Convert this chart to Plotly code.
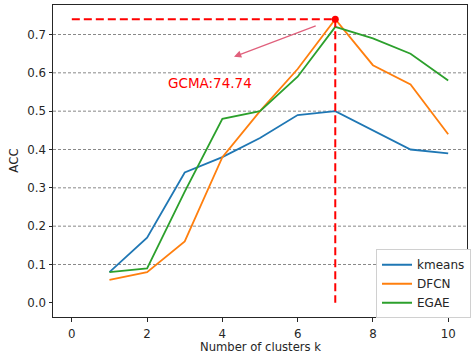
import plotly.graph_objects as go

k_values = [1, 2, 3, 4, 5, 6, 7, 8, 9, 10]
kmeans = [0.08, 0.17, 0.34, 0.38, 0.43, 0.49, 0.50, 0.45, 0.40, 0.39]
dfcn = [0.06, 0.08, 0.16, 0.38, 0.50, 0.61, 0.74, 0.62, 0.57, 0.44]
egae = [0.08, 0.09, 0.29, 0.48, 0.50, 0.59, 0.72, 0.69, 0.65, 0.58]

series_names = ["kmeans", "DFCN", "EGAE"]
series_colors = ["#1f77b4", "#ff7f0e", "#2ca02c"]

peak_k = 7
peak_acc = 0.74
peak_label = "GCMA:74.74"
hline_start = 0
arrow_tail = (6.52, 0.724)
arrow_head = (4.31, 0.642)
label_pos = (3.66, 0.574)

x_title = "Number of clusters k"
y_title = "ACC"

grid_levels = [0.1, 0.2, 0.3, 0.4, 0.5, 0.6, 0.7]
x_ticks = [0, 2, 4, 6, 8, 10]
y_ticks = [0.0, 0.1, 0.2, 0.3, 0.4, 0.5, 0.6, 0.7]

FONT = "DejaVu Sans"
TXT = "#262626"
fig = go.Figure()

for name, vals, col in zip(series_names, [kmeans, dfcn, egae], series_colors):
    fig.add_trace(go.Scatter(x=k_values, y=vals, mode="lines", name=name,
                             line=dict(color=col, width=1.8)))

# red dashed guide lines
fig.add_trace(go.Scatter(x=[hline_start, peak_k], y=[peak_acc, peak_acc], mode="lines",
                         line=dict(color="red", width=2, dash="8px,4px"),
                         showlegend=False, hoverinfo="skip"))
fig.add_trace(go.Scatter(x=[peak_k, peak_k], y=[peak_acc, 0], mode="lines",
                         line=dict(color="red", width=2, dash="8px,4px"),
                         showlegend=False, hoverinfo="skip"))
fig.add_trace(go.Scatter(x=[peak_k], y=[peak_acc], mode="markers",
                         marker=dict(color="red", size=7),
                         showlegend=False, hoverinfo="skip"))

shapes = []
for g in grid_levels:
    shapes.append(dict(type="line", xref="paper", x0=0, x1=1, yref="y", y0=g, y1=g,
                       line=dict(color="#888888", width=1, dash="3px,2px"), layer="below"))

fig.update_layout(
    width=471, height=353,
    margin=dict(l=53, r=0, t=5, b=36),
    paper_bgcolor="white", plot_bgcolor="white",
    font=dict(family=FONT, size=11.8, color=TXT),
    shapes=shapes,
    showlegend=True,
    legend=dict(x=1.01, y=-0.004, xanchor="right", yanchor="bottom",
                bgcolor="white", bordercolor="#d0d0d0", borderwidth=1,
                font=dict(family=FONT, size=12, color=TXT)),
    annotations=[
        dict(x=arrow_head[0], y=arrow_head[1], ax=arrow_tail[0], ay=arrow_tail[1],
             xref="x", yref="y", axref="x", ayref="y", text="",
             showarrow=True, arrowhead=2, arrowsize=1.2, arrowwidth=1.2,
             arrowcolor="#e0607c", standoff=0, startstandoff=0),
        dict(x=label_pos[0], y=label_pos[1], xref="x", yref="y", text=peak_label,
             showarrow=False, font=dict(family=FONT, size=13.5, color="red")),
        dict(x=0.5, y=-0.097, xref="paper", yref="paper", text=x_title,
             showarrow=False, xanchor="center", yanchor="middle", borderpad=0,
             font=dict(family=FONT, size=11.6, color=TXT)),
        dict(x=-0.095, y=0.5, xref="paper", yref="paper", text=y_title, textangle=-90,
             showarrow=False, xanchor="center", yanchor="middle", borderpad=0,
             font=dict(family=FONT, size=11.8, color=TXT)),
    ],
)

fig.update_xaxes(range=[-0.5, 10.5], tickvals=x_ticks, ticktext=[str(v) for v in x_ticks],
                 showgrid=False, zeroline=False, showline=True, linecolor=TXT,
                 linewidth=1, mirror=True, ticks="outside", ticklen=3.5, tickcolor=TXT,
                 ticklabelstandoff=2, automargin=False)
fig.update_yaxes(range=[-0.037, 0.777], tickvals=y_ticks, ticktext=[f"{v:.1f}" for v in y_ticks],
                 showgrid=False, zeroline=False, showline=True, linecolor=TXT,
                 linewidth=1, mirror=True, ticks="outside", ticklen=3.5, tickcolor=TXT,
                 automargin=False)

fig.write_html("out.html", config={"displayModeBar": False},
               post_script="document.body.style.margin='0';document.body.style.overflow='hidden';")
